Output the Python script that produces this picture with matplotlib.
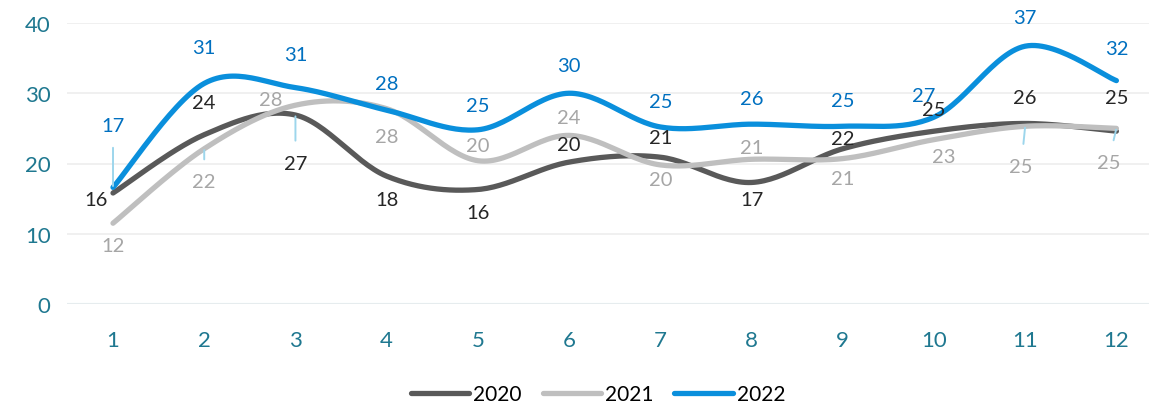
import numpy as np
import matplotlib.pyplot as plt

months = list(range(1, 13))
y2020 = [15.8, 24.1, 26.9, 18.2, 16.3, 20.2, 20.9, 17.3, 22.1, 24.6, 25.7, 24.6]
y2021 = [11.5, 22.1, 28.3, 27.8, 20.4, 24.0, 19.8, 20.6, 20.7, 23.4, 25.3, 25.0]
y2022 = [16.6, 31.4, 30.8, 27.6, 24.8, 30.0, 25.2, 25.6, 25.3, 26.6, 36.7, 31.8]
labels2020 = [16, 24, 27, 18, 16, 20, 21, 17, 22, 25, 26, 25]
labels2021 = [12, 22, 28, 28, 20, 24, 20, 21, 21, 23, 25, 25]
labels2022 = [17, 31, 31, 28, 25, 30, 25, 26, 25, 27, 37, 32]

# label offsets in pixels (dx, dy) and whether a leader line is drawn
off2020 = [(-17, -6), (0, 32), (0, -48), (0, -23), (0, -23), (0, 18), (0, 20), (0, -17), (0, 10), (0, 22), (0, 26), (0, 34)]
off2021 = [(0, -22), (0, -33), (-25, 6), (0, -28), (0, 15), (0, 18), (0, -15), (0, 12), (0, -20), (10, -17), (-4, -40), (-8, -34)]
off2022 = [(0, 62), (0, 36), (0, 33), (0, 27), (0, 24), (0, 28), (0, 25), (0, 26), (0, 26), (-10, 22), (0, 29), (0, 32)]
lead2020 = [3]
lead2021 = [2, 11, 12]
lead2022 = [1]


def smooth(x, y, n=30):
    # Excel-like smoothed line: cubic Bezier with Catmull-Rom control points
    x = np.asarray(x, float)
    y = np.asarray(y, float)
    px = np.concatenate([[x[0]], x, [x[-1]]])
    py = np.concatenate([[y[0]], y, [y[-1]]])
    xs, ys = [], []
    t = np.linspace(0, 1, n)
    for i in range(len(x) - 1):
        p0 = np.array([px[i + 1], py[i + 1]])
        p3 = np.array([px[i + 2], py[i + 2]])
        c1 = p0 + (np.array([px[i + 2], py[i + 2]]) - np.array([px[i], py[i]])) / 6
        c2 = p3 - (np.array([px[i + 3], py[i + 3]]) - np.array([px[i + 1], py[i + 1]])) / 6
        pts = ((1 - t) ** 3)[:, None] * p0 + (3 * (1 - t) ** 2 * t)[:, None] * c1 \
            + (3 * (1 - t) * t ** 2)[:, None] * c2 + (t ** 3)[:, None] * p3
        xs.extend(pts[:, 0])
        ys.extend(pts[:, 1])
    return xs, ys


plt.rcParams['font.family'] = ['Lato', 'DejaVu Sans']
fig = plt.figure(figsize=(11.49, 4.06), dpi=100)
ax = fig.add_axes([67.4 / 1149, 101 / 406, (1162 - 67.4) / 1149, 281 / 406])

series = [
    (y2020, labels2020, off2020, lead2020, '#595959', '#262626', '2020'),
    (y2021, labels2021, off2021, lead2021, '#BFBFBF', '#A6A6A6', '2021'),
    (y2022, labels2022, off2022, lead2022, '#0A8FDC', '#0070C0', '2022'),
]
for vals, labs, offs, leads, lc, tc, name in series:
    sx, sy = smooth(months, vals)
    ax.plot(sx, sy, color=lc, lw=3.8, solid_capstyle='round', label=name, zorder=3)
    for m, v, lab, (dx, dy) in zip(months, vals, labs, offs):
        ap = None
        if m in leads:
            ap = dict(arrowstyle='-', color='#9DD6EC', lw=1.4, shrinkA=8, shrinkB=1)
        ax.annotate(str(lab), (m, v), xytext=(dx, dy), textcoords='offset pixels',
                    ha='center', va='center', fontsize=14.5, color=tc,
                    arrowprops=ap, zorder=4, annotation_clip=False)

ax.set_xlim(0.5, 12.5)
ax.set_ylim(0, 40)
ax.set_xticks(months)
ax.set_yticks([0, 10, 20, 30, 40])
ax.grid(axis='y', color='#EDEDED', lw=1.2, zorder=0)
ax.axhline(0, color='#C9E8F3', lw=1.5, zorder=1)
for s in ax.spines.values():
    s.set_visible(False)
ax.tick_params(length=0, labelsize=16, labelcolor='#1F7890')
ax.tick_params(axis='y', pad=12)
ax.tick_params(axis='x', pad=19)

fig.legend(loc='center', bbox_to_anchor=(598 / 1149, 1 - 395 / 406), ncol=3, frameon=False,
           fontsize=15, handlelength=2.8, columnspacing=1.0, handletextpad=0.2)
fig.savefig('out.png', dpi=100)
